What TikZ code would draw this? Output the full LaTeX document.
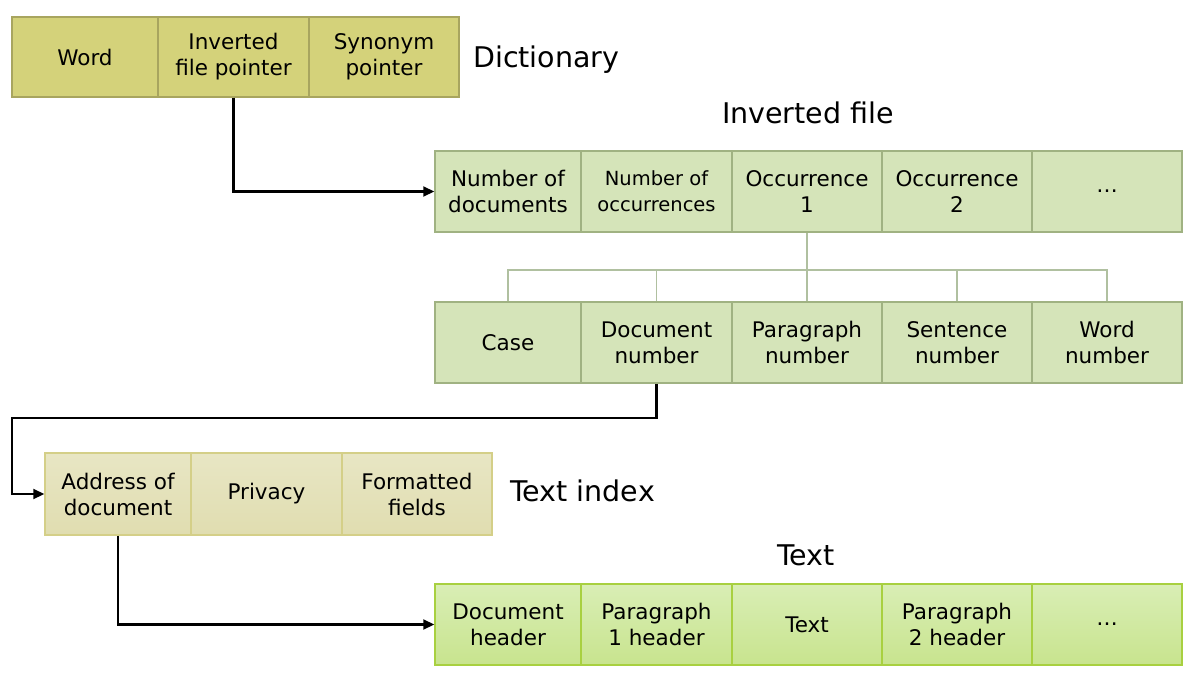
\documentclass[tikz,border=0pt]{standalone}
\usepackage{fontspec}
\setmainfont{DejaVu Sans}
\usetikzlibrary{arrows.meta}
\definecolor{dictfill}{RGB}{212,210,122}
\definecolor{dictline}{RGB}{168,165,95}
\definecolor{invfill}{RGB}{213,228,185}
\definecolor{invline}{RGB}{160,178,130}
\definecolor{treeline}{RGB}{176,192,160}
\definecolor{tixtop}{RGB}{232,230,196}
\definecolor{tixbot}{RGB}{224,221,176}
\definecolor{tixline}{RGB}{212,207,136}
\definecolor{txttop}{RGB}{217,238,181}
\definecolor{txtbot}{RGB}{200,228,142}
\definecolor{txtline}{RGB}{168,208,64}
\tikzset{
  cell/.style={rectangle, inner sep=0pt, align=center, font=\fontsize{21.5}{26}\selectfont, line width=1.5pt},
  dcell/.style={cell, fill=dictfill, draw=dictline, minimum height=80pt},
  icell/.style={cell, fill=invfill, draw=invline, minimum height=81pt},
  tcell/.style={cell, top color=tixtop, bottom color=tixbot, draw=tixline, minimum height=82pt},
  xcell/.style={cell, top color=txttop, bottom color=txtbot, draw=txtline, minimum height=81pt},
  wA/.style={minimum width=146pt},
  wB/.style={minimum width=151pt},
  wC/.style={minimum width=150pt},
  title/.style={font=\fontsize{28.5}{32}\selectfont, inner sep=0pt},
  arr/.style={line width=2.2pt, -{Triangle[length=11pt,width=10pt]}},
  tree/.style={draw=treeline, line width=1.4pt}
}
\begin{document}
\begin{tikzpicture}[x=1pt,y=-1pt]
\useasboundingbox (0,0) rectangle (1195,682);
% Dictionary
\node[dcell,wA] (d1) at (85,57) {Word};
\node[dcell,wB] (d2) at (233.5,57) {Inverted\\file pointer};
\node[dcell,wC] (d3) at (384,57) {Synonym\\pointer};
\node[title,anchor=west] (dl) at (473,60) {Dictionary};
% Inverted file
\node[title] (il) at (808,113) {Inverted file};
\node[icell,wA] (i1) at (508,191.5) {Number of\\documents};
\node[icell,wB,font=\fontsize{19.5}{26}\selectfont] (i2) at (656.5,191.5) {Number of\\occurrences};
\node[icell,wC] (i3) at (807,191.5) {Occurrence\\1};
\node[icell,wC] (i4) at (957,191.5) {Occurrence\\2};
\node[icell,wC] (i5) at (1107,191.5) {\dots};
% Occurrence row
\node[icell,wA] (r1) at (508,342.5) {Case};
\node[icell,wB] (r2) at (656.5,342.5) {Document\\number};
\node[icell,wC] (r3) at (807,342.5) {Paragraph\\number};
\node[icell,wC] (r4) at (957,342.5) {Sentence\\number};
\node[icell,wC] (r5) at (1107,342.5) {Word\\number};
% Text index
\node[tcell,wA] (t1) at (118,494) {Address of\\document};
\node[tcell,wB] (t2) at (266.5,494) {Privacy};
\node[tcell,wC] (t3) at (417,494) {Formatted\\fields};
\node[title,anchor=west] (tl) at (510,491) {Text index};
% Text
\node[title] (xl) at (806,555) {Text};
\node[xcell,wA] (x1) at (508,624.5) {Document\\header};
\node[xcell,wB] (x2) at (656.5,624.5) {Paragraph\\1 header};
\node[xcell,wC] (x3) at (807,624.5) {Text};
\node[xcell,wC] (x4) at (957,624.5) {Paragraph\\2 header};
\node[xcell,wC] (x5) at (1107,624.5) {\dots};
% tree
\coordinate (tj) at (807,270);
\draw[tree] (i3.south) -- (tj);
\draw[tree] (r1.north) |- (tj);
\draw[tree] (r2.north) |- (tj);
\draw[tree] (r3.north) -- (tj);
\draw[tree] (r4.north) |- (tj);
\draw[tree] (r5.north) |- (tj);
% arrows
\draw[arr] (d2.south) |- (i1.west);
\coordinate (k1) at (12,418);
\draw[arr] (r2.south) |- (k1) |- (t1.west);
\draw[arr] (t1.south) |- (x1.west);
\end{tikzpicture}
\end{document}
